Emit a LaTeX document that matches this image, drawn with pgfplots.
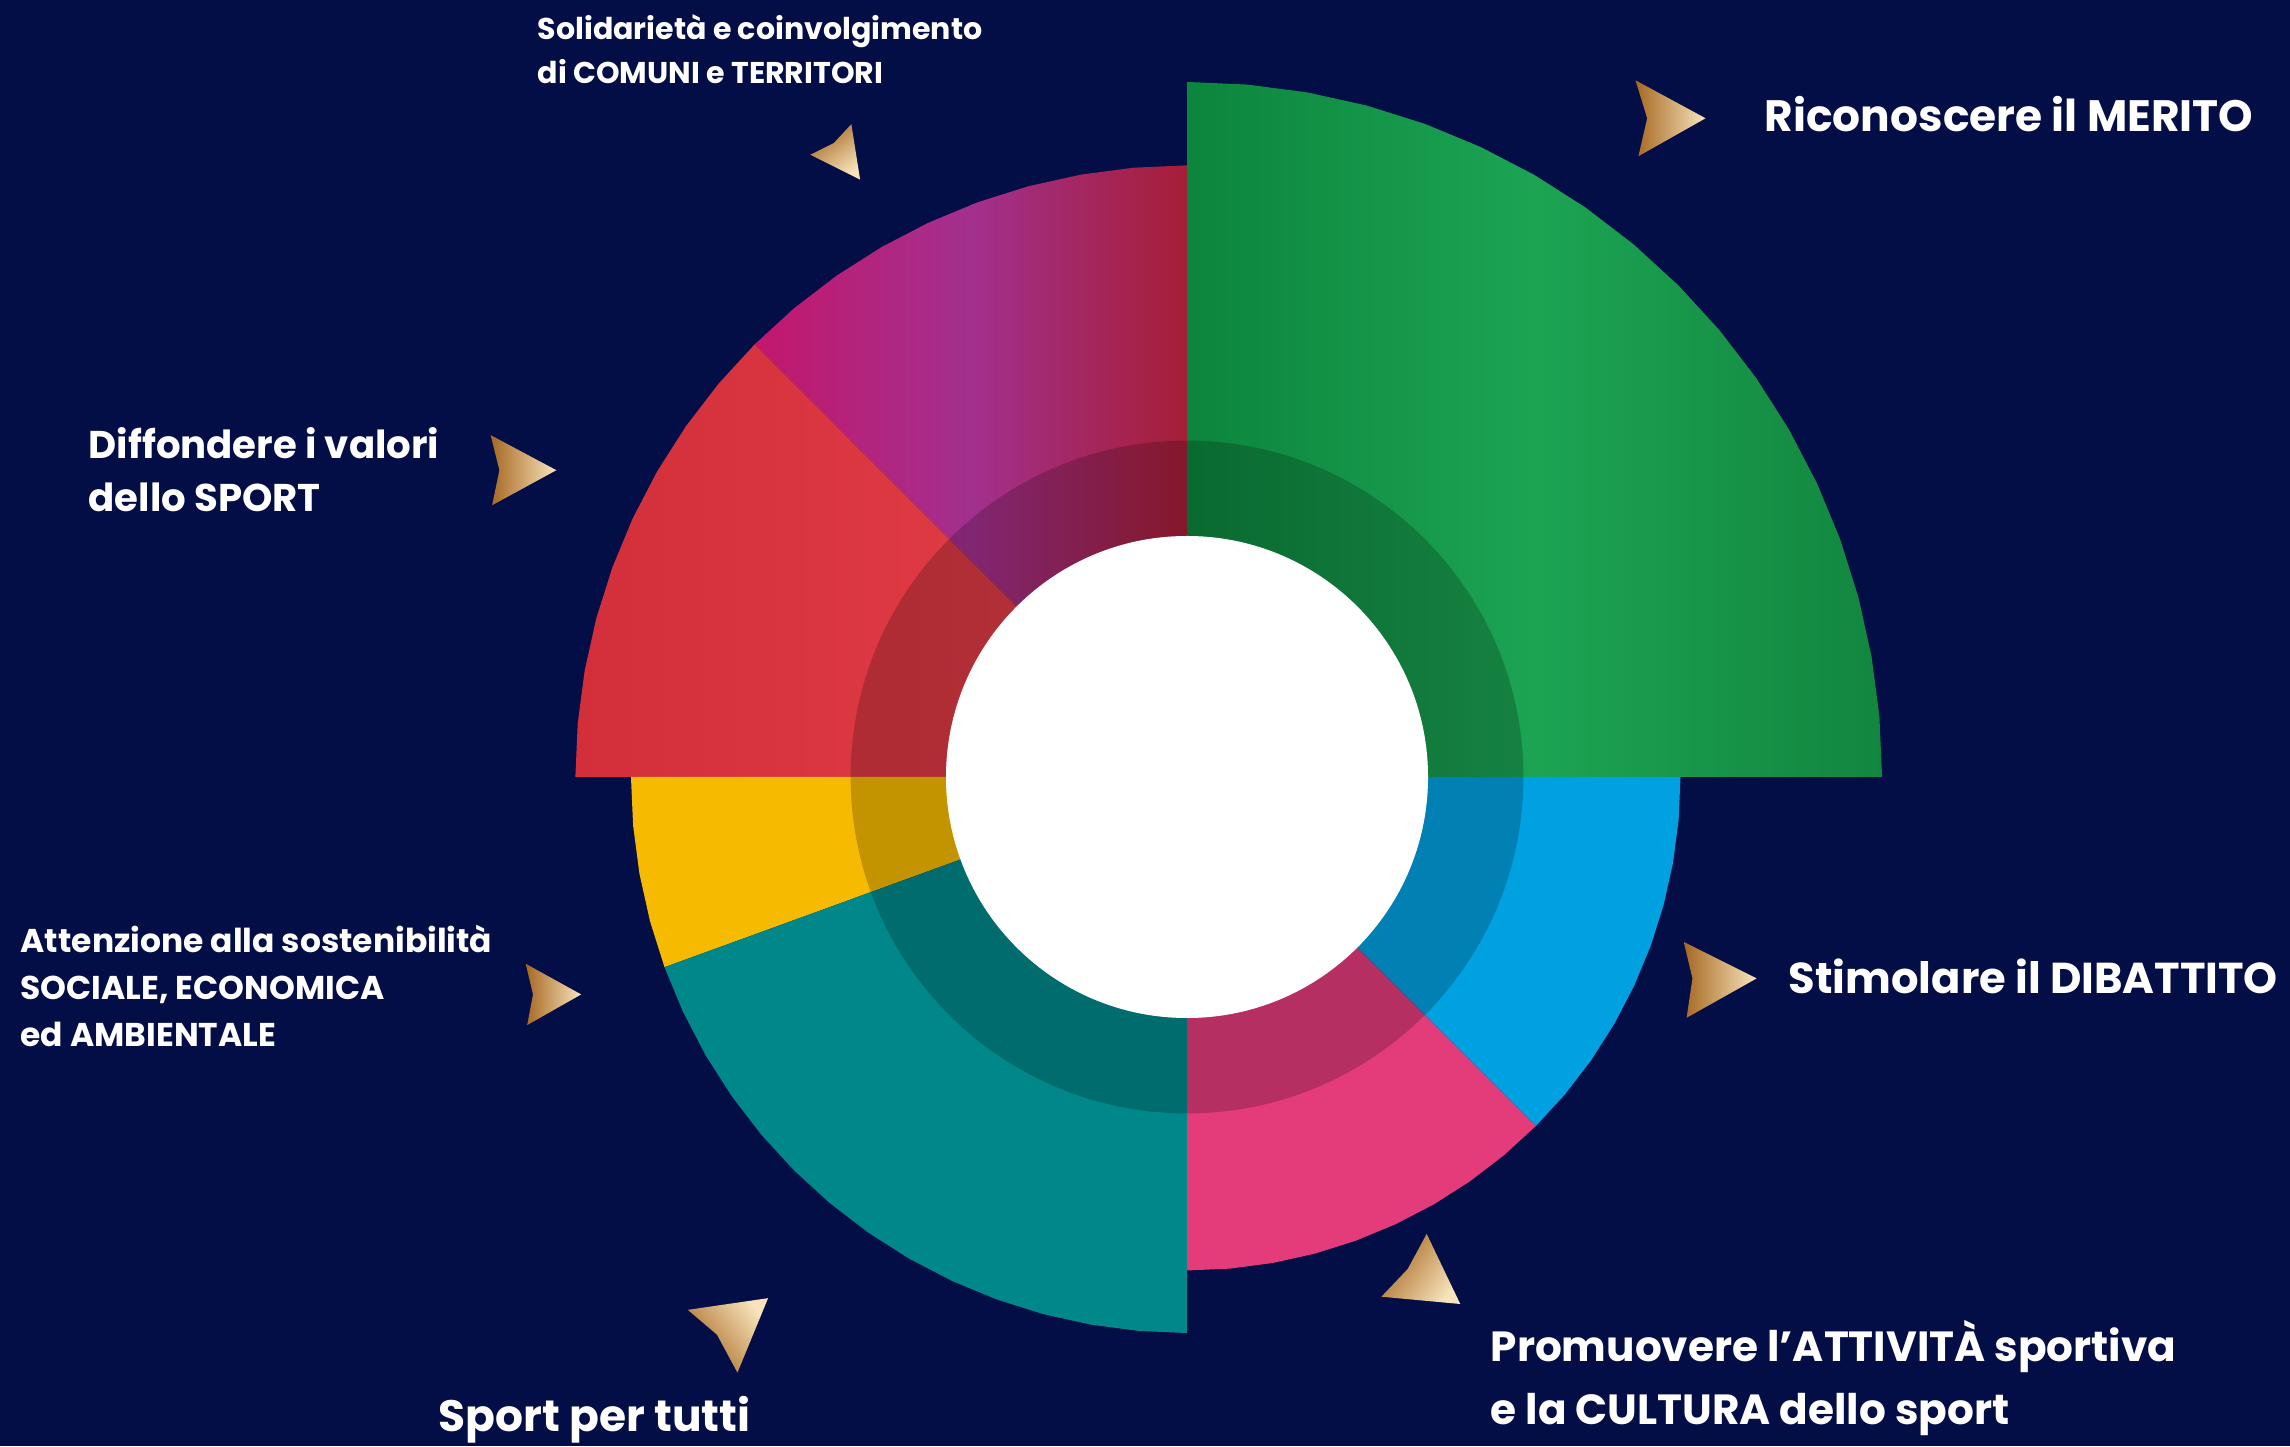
\documentclass[border=0pt]{standalone}
\usepackage{fontspec}
\setmainfont{Poppins}
\usepackage{pgfplots}
\pgfplotsset{compat=1.18}
\definecolor{navy}{RGB}{3,13,70}
\definecolor{greenL}{HTML}{0C853D}
\definecolor{greenM}{HTML}{1CA453}
\definecolor{greenR}{HTML}{12863F}
\definecolor{purL}{HTML}{C4176C}
\definecolor{purM}{HTML}{A2308E}
\definecolor{purR}{HTML}{A61E36}
\definecolor{redL}{HTML}{D22F3A}
\definecolor{redR}{HTML}{E6404A}
\definecolor{yel}{HTML}{F6BA00}
\definecolor{teal2}{HTML}{00878A}
\definecolor{pink2}{HTML}{E43B7B}
\definecolor{blue2}{HTML}{00A1E0}
\definecolor{goldD}{HTML}{A66822}
\definecolor{goldL}{HTML}{F8E4BC}
\begin{document}
\begin{tikzpicture}
\fill[navy] (0,0) rectangle (22.9,14.46);
\begin{axis}[at={(11.87cm,6.69cm)}, anchor=origin, x=0.0695cm, y=0.0695cm,
  xmin=-100, xmax=100, ymin=-100, ymax=100, hide axis, clip=false]
% Riconoscere il MERITO
\addplot[data cs=polar, draw=none, left color=greenL, right color=greenR, middle color=greenM] coordinates {
(0,0) (0,100) (5,100) (10,100) (15,100) (20,100) (25,100) (30,100) (35,100) (40,100) (45,100)
(50,100) (55,100) (60,100) (65,100) (70,100) (75,100) (80,100) (85,100) (90,100) (90,0)} -- cycle;
% Solidarieta
\addplot[data cs=polar, draw=none, left color=purL, right color=purR, middle color=purM] coordinates {
(90,0) (90,88) (95,88) (100,88) (105,88) (110,88) (115,88) (120,88) (125,88) (130,88) (135,88) (135,0)} -- cycle;
% Diffondere
\addplot[data cs=polar, draw=none, left color=redL, right color=redR] coordinates {
(135,0) (135,88) (140,88) (145,88) (150,88) (155,88) (160,88) (165,88) (170,88) (175,88) (180,88) (180,0)} -- cycle;
% Attenzione sostenibilita
\addplot[data cs=polar, draw=none, fill=yel] coordinates {
(180,0) (180,80) (185,80) (190,80) (195,80) (200,80) (200,0)} -- cycle;
% Sport per tutti
\addplot[data cs=polar, draw=none, fill=teal2] coordinates {
(200,0) (200,80) (205,80) (210,80) (215,80) (220,80) (225,80) (230,80) (235,80) (240,80)
(245,80) (250,80) (255,80) (260,80) (265,80) (270,80) (270,0)} -- cycle;
% Promuovere
\addplot[data cs=polar, draw=none, fill=pink2] coordinates {
(270,0) (270,71) (275,71) (280,71) (285,71) (290,71) (295,71) (300,71) (305,71) (310,71) (315,71) (315,0)} -- cycle;
% Stimolare
\addplot[data cs=polar, draw=none, fill=blue2] coordinates {
(315,0) (315,71) (320,71) (325,71) (330,71) (335,71) (340,71) (345,71) (350,71) (355,71) (360,71) (360,0)} -- cycle;
\end{axis}
\fill[black, opacity=0.2, even odd rule] (11.87,6.69) circle (3.364) circle (2.41);
\fill[white] (11.87,6.69) circle (2.41);
% gold arrows (coordinates in reference pixels)
\begin{scope}[shift={(0cm,14.46cm)}, x=0.014605cm, y=-0.014605cm]
\path[top color=goldD, bottom color=goldL, shading angle=90] (1120,55) -- (1168,81) -- (1122,107) -- (1128,81) -- cycle;
\path[top color=goldD, bottom color=goldL, shading angle=35] (583,85) -- (589,123) -- (555,106) -- (571,98) -- cycle;
\path[top color=goldD, bottom color=goldL, shading angle=90] (336,298) -- (381,322) -- (337,346) -- (342,322) -- cycle;
\path[top color=goldD, bottom color=goldL, shading angle=90] (360,660) -- (398,681) -- (361,702) -- (365,681) -- cycle;
\path[top color=goldD, bottom color=goldL, shading angle=90] (1153,645) -- (1203,670) -- (1155,697) -- (1159,670) -- cycle;
\path[top color=goldD, bottom color=goldL, shading angle=127] (471,897) -- (526,889) -- (505,940) -- (491,914) -- cycle;
\path[top color=goldD, bottom color=goldL, shading angle=55] (977,845) -- (1000,893) -- (946,888) -- (964,869) -- cycle;
\end{scope}
% labels
\begin{scope}[every node/.style={anchor=base west, inner sep=0pt, text=white}]
\node[font=\bfseries\fontsize{8.55}{11}\selectfont] at (5.37,14.06) {Solidarietà e coinvolgimento};
\node[font=\bfseries\fontsize{8.55}{11}\selectfont] at (5.37,13.62) {di COMUNI e TERRITORI};
\node[font=\bfseries\fontsize{12.5}{15}\selectfont] at (17.64,13.14) {Riconoscere il MERITO};
\node[font=\bfseries\fontsize{11}{13}\selectfont] at (0.88,9.87) {Diffondere i valori};
\node[font=\bfseries\fontsize{11}{13}\selectfont] at (0.88,9.34) {dello SPORT};
\node[font=\bfseries\fontsize{9.37}{12}\selectfont] at (0.20,4.93) {Attenzione alla sostenibilità};
\node[font=\bfseries\fontsize{9.37}{12}\selectfont] at (0.20,4.47) {SOCIALE, ECONOMICA};
\node[font=\bfseries\fontsize{9.37}{12}\selectfont] at (0.20,4.00) {ed AMBIENTALE};
\node[font=\bfseries\fontsize{12.3}{15}\selectfont] at (17.88,4.52) {Stimolare il DIBATTITO};
\node[font=\bfseries\fontsize{12}{15}\selectfont] at (14.90,0.85) {Promuovere l’ATTIVITÀ sportiva};
\node[font=\bfseries\fontsize{12}{15}\selectfont] at (14.90,0.22) {e la CULTURA dello sport};
\node[font=\bfseries\fontsize{12.5}{15}\selectfont] at (4.38,0.15) {Sport per tutti};
\end{scope}
\pgfresetboundingbox
\useasboundingbox (0,0) rectangle (22.9,14.46);
\end{tikzpicture}
\end{document}
